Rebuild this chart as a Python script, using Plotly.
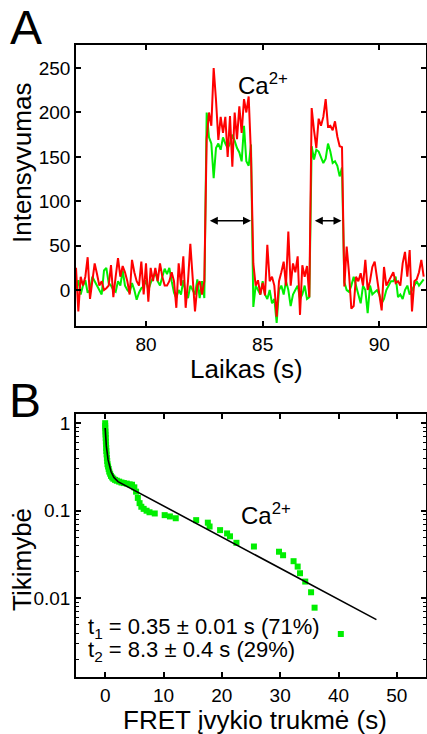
import numpy as np
import plotly.graph_objects as go

# ---------------- Panel A data ----------------
t_start = 77.0
t_step = 0.1
red_vals = [25,-24,15,5,15,37,-10,10,30,18,5,10,0,2,5,28,-8,15,36,15,27,20,10,-5,34,20,10,5,32,-5,
            30,-13,25,10,25,10,30,15,5,5,10,20,10,-20,30,5,38,-20,10,52,10,-24,5,10,-5,10,
            170,200,185,250,214,169,195,177,195,150,196,139,200,170,207,177,215,200,218,152,
            30,5,11,-5,8,-6,51,10,15,5,-30,10,20,32,5,66,5,30,20,38,-28,28,15,27,-8,
            205,180,160,193,185,195,215,184,185,180,190,173,162,161,
            4,49,19,-21,-18,15,10,19,5,34,0,10,26,32,10,-5,-23,26,5,10,15,20,8,10,5,30,43,15,45,-24,10,12,20,34,15]
green_vals = [0,11,-5,5,11,-3,0,15,10,5,0,-5,22,25,8,5,0,-2,10,5,22,5,0,-3,8,0,-11,-3,2,4,
              11,0,8,15,20,10,5,15,24,18,25,10,-3,-9,0,-5,11,-3,-9,5,0,-5,12,-9,10,-9,
              200,172,165,126,160,165,158,172,165,160,165,175,168,160,155,145,185,145,140,164,
              -19,5,0,-5,10,-5,-10,0,-15,-10,-37,0,5,-5,10,0,-18,-5,0,5,-10,-5,5,-10,-8,
              162,147,158,156,150,143,148,165,156,143,145,140,128,138,
              9,0,-2,5,15,5,-5,-15,5,0,-26,5,-5,-2,0,-5,-15,-10,0,5,10,10,15,-8,-5,-10,0,5,-5,0,5,10,5,8,12]
time = np.round(t_start + t_step * np.arange(len(red_vals)), 2)

a_xticks = [80, 85, 90]
a_yticks = [0, 50, 100, 150, 200, 250]
arrow1 = [82.67, 84.5]
arrow2 = [87.17, 88.38]
arrow_y = 78

# ---------------- Panel B data ----------------
dur = [0.0,0.0,0.02,0.05,0.07,0.1,0.12,0.15,0.18,0.2,0.25,0.3,0.35,0.4,0.5,0.6,0.7,0.85,1.0,1.2,
       1.4,1.7,2.0,2.4,2.8,3.2,3.7,4.2,4.6,5.0,5.3,5.6,5.9,6.2,6.6,7.1,7.6,8.5,10.2,11.1,12.1,
       15.6,17.6,17.9,19.7,20.9,21.4,22.5,25.5,29.8,30.5,32.3,33.0,33.4,34.3,35.3,35.9,40.4]
prob = [1.0,0.93,0.87,0.8,0.74,0.68,0.62,0.57,0.52,0.48,0.44,0.40,0.37,0.34,0.32,0.30,0.28,0.265,0.25,0.24,
        0.232,0.225,0.22,0.215,0.21,0.207,0.204,0.2,0.198,0.185,0.165,0.14,0.122,0.111,0.105,0.1,0.096,0.093,0.089,0.086,0.082,
        0.078,0.073,0.066,0.06,0.055,0.051,0.043,0.039,0.034,0.031,0.0265,0.023,0.0193,0.0155,0.0117,0.0078,0.0039]
fit_t = [0.0, 0.2, 0.5, 1.0, 1.5, 2.2, 46.5]
fit_p = [0.88, 0.55, 0.38, 0.28, 0.24, 0.215, 0.0057]
b_xticks = [0, 10, 20, 30, 40, 50]
b_yticks = [0.01, 0.1, 1]
b_yticktext = ["0.01", "0.1", "1"]
b_minor = [0.002, 0.003, 0.004, 0.005, 0.006, 0.007, 0.008, 0.009,
           0.02, 0.03, 0.04, 0.05, 0.06, 0.07, 0.08, 0.09,
           0.2, 0.3, 0.4, 0.5, 0.6, 0.7, 0.8, 0.9]

FONT = "Liberation Sans, Arial, sans-serif"
W, H = 427, 734
def px(x): return x / W
def py(y): return 1 - y / H

fig = go.Figure()
fig.add_trace(go.Scatter(x=time, y=green_vals, mode="lines", line=dict(color="#00ee00", width=2),
                         xaxis="x", yaxis="y", showlegend=False))
fig.add_trace(go.Scatter(x=time, y=red_vals, mode="lines", line=dict(color="#ff0000", width=2),
                         xaxis="x", yaxis="y", showlegend=False))
fig.add_trace(go.Scatter(x=dur, y=prob, mode="markers",
                         marker=dict(symbol="square", size=6, color="#00ee00"),
                         xaxis="x2", yaxis="y2", showlegend=False))
fig.add_trace(go.Scatter(x=fit_t, y=fit_p, mode="lines", line=dict(color="black", width=1.6),
                         xaxis="x2", yaxis="y2", showlegend=False))

axcommon = dict(showline=True, linecolor="black", linewidth=1.6, mirror="ticks", ticks="inside",
                ticklen=5, tickwidth=1.5, tickcolor="black", showgrid=False, zeroline=False,
                automargin=False,
                tickfont=dict(family=FONT, size=19, color="black"))

dom_x = [px(76), px(426)]
fig.update_layout(
    width=W, height=H, margin=dict(l=0, r=0, t=0, b=0, autoexpand=False),
    paper_bgcolor="white", plot_bgcolor="white",
    xaxis=dict(domain=dom_x, range=[77, 92], tickvals=a_xticks, anchor="y", **axcommon),
    yaxis=dict(domain=[py(326), py(45)], range=[-40.5, 276], tickvals=a_yticks, anchor="x", **axcommon),
    xaxis2=dict(domain=dom_x, range=[-5, 55], tickvals=b_xticks, anchor="y2", **axcommon),
    yaxis2=dict(domain=[py(677), py(414)], type="log", range=[-2.9, 0.105], tickvals=b_yticks,
                ticktext=b_yticktext, anchor="x2",
                minor=dict(tickvals=b_minor, ticks="inside", ticklen=3, tickwidth=1,
                           tickcolor="black", showgrid=False),
                **axcommon),
)

ann = []
def txt(x, y, s, size, xanchor="center", yanchor="middle", angle=0):
    ann.append(dict(x=px(x), y=py(y), xref="paper", yref="paper", text=s, showarrow=False,
                    font=dict(family=FONT, size=size, color="black"), xanchor=xanchor,
                    yanchor=yanchor, textangle=angle))

txt(26, 27, "A", 48)
txt(25, 400, "B", 48)
txt(22, 163, "Intensyvumas", 26, angle=-90)
txt(246, 369, "Laikas (s)", 26)
txt(22, 560, "Tikimybė", 26, angle=-90)
txt(255, 720, "FRET įvykio trukmė (s)", 26)
txt(86, 628, "t<sub>1</sub> = 0.35 ± 0.01 s (71%)", 22, xanchor="left")
txt(86, 651, "t<sub>2</sub> = 8.3 ± 0.4 s (29%)", 22, xanchor="left")
ann.append(dict(x=85.0, y=232, xref="x", yref="y", text="Ca<sup>2+</sup>", showarrow=False,
                font=dict(family=FONT, size=24, color="black")))
ann.append(dict(x=27.5, y=float(np.log10(0.092)), xref="x2", yref="y2", text="Ca<sup>2+</sup>",
                showarrow=False, font=dict(family=FONT, size=24, color="black")))
for a in (arrow1, arrow2):
    ann.append(dict(x=a[1], y=arrow_y, ax=a[0], ay=arrow_y, xref="x", yref="y", axref="x", ayref="y",
                    text="", showarrow=True, arrowhead=2, arrowside="end+start", arrowsize=1,
                    arrowwidth=1.6, arrowcolor="black", standoff=0, startstandoff=0))
fig.update_layout(annotations=ann)

fig.write_html("out.html", config={"displayModeBar": False},
               post_script="document.body.style.margin='0';document.body.style.overflow='hidden';")
